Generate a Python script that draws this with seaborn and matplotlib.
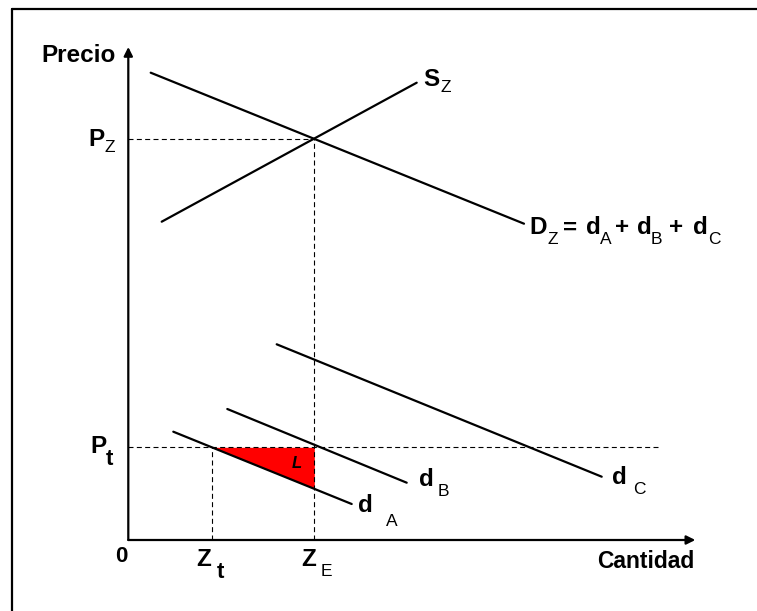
import numpy as np
import pandas as pd
import matplotlib
matplotlib.use('Agg')
import matplotlib.pyplot as plt
import seaborn as sns
from matplotlib.lines import Line2D

# Datos (unidades del diagrama, origen en el cruce de los ejes)
curvas = ['D_Z', 'S_Z', 'd_A', 'd_B', 'd_C']
q_inicio = [22.4, 33.4, 45.0, 99.0, 148.4]
p_inicio = [467.3, 318.3, 108.3, 131.0, 195.7]
q_fin = [395.7, 288.4, 223.4, 278.4, 473.4]
p_fin = [316.3, 457.3, 36.0, 57.3, 63.3]

precio_z = 401.0   # P_Z
precio_t = 92.7    # P_t
cant_e = 186.0     # Z_E
cant_t = 83.4      # Z_t
fin_pt = 530.0     # fin de la línea punteada de P_t
eje_x_max = 567.0
eje_y_max = 493.0

sns.set_theme(style='white')
plt.rcParams['font.family'] = ['Liberation Sans', 'DejaVu Sans']
plt.rcParams['text.color'] = 'black'


def main():
    df = pd.DataFrame({
        'curva': curvas + curvas,
        'Q': q_inicio + q_fin,
        'P': p_inicio + p_fin,
    })

    fig = plt.figure(figsize=(7.57, 6.11), dpi=100)
    ax = fig.add_axes([0, 0, 1, 1])
    ax.set_xlim(-128.3, 628.7)
    ax.set_ylim(-71, 540)
    ax.axis('off')

    # marco (solo izquierda y arriba, el resto queda recortado)
    fig.add_artist(Line2D([12 / 757, 12 / 757], [0, 1 - 9 / 611], transform=fig.transFigure,
                          color='black', lw=1.6))
    fig.add_artist(Line2D([12 / 757, 1], [1 - 9 / 611, 1 - 9 / 611], transform=fig.transFigure,
                          color='black', lw=1.6))

    # ejes con flechas
    flecha = dict(arrowstyle='-|>', lw=1.6, color='black', mutation_scale=13, shrinkA=0, shrinkB=0)
    ax.annotate('', xy=(eje_x_max, 0), xytext=(0, 0), arrowprops=flecha)
    ax.annotate('', xy=(0, eje_y_max), xytext=(0, 0), arrowprops=flecha)

    # curvas de oferta y demanda
    sns.lineplot(data=df, x='Q', y='P', units='curva', estimator=None, sort=False,
                 color='black', lw=1.6, ax=ax, legend=False)

    # líneas punteadas
    punteado = dict(color='black', lw=0.8, dashes=(4.5, 3))
    ax.plot([0, cant_e], [precio_z, precio_z], **punteado)
    ax.plot([cant_e, cant_e], [0, precio_z], **punteado)
    ax.plot([0, fin_pt], [precio_t, precio_t], **punteado)
    ax.plot([cant_t, cant_t], [0, precio_t], **punteado)

    # triángulo de pérdida L entre d_A y P_t
    i = curvas.index('d_A')
    qs = np.linspace(cant_t, cant_e, 50)
    pa = np.interp(qs, [q_inicio[i], q_fin[i]], [p_inicio[i], p_fin[i]])
    ax.fill_between(qs, pa, precio_t, color='#FF0000', lw=0, zorder=1)
    ax.text(168, 76, 'L', fontsize=12, fontweight='bold', style='italic', ha='center', va='center')

    grande = dict(fontsize=17.5, fontweight='bold', va='center', ha='left')
    sub = dict(fontsize=12.5, va='center', ha='left')

    ax.text(-87, 485, 'Precio', **grande)
    ax.text(469, -21, 'Cantidad', fontsize=16.5, fontweight='bold', va='center', ha='left')
    ax.text(-6.5, -17, '0', fontsize=16, fontweight='bold', ha='center', va='center')

    ax.text(-40, precio_z, 'P', **grande)
    ax.text(-24, precio_z - 8, 'Z', **sub)
    ax.text(-38, precio_t + 1, 'P', **grande)
    ax.text(-23, precio_t - 12, 't', fontsize=16, fontweight='bold', va='center', ha='left')

    ax.text(cant_t - 15, -20, 'Z', **grande)
    ax.text(cant_t + 5, -33, 't', fontsize=16, fontweight='bold', va='center', ha='left')
    ax.text(cant_e - 13, -20, 'Z', **grande)
    ax.text(cant_e + 6, -31, 'E', **sub)

    # etiquetas de curvas
    ax.text(295, 460, 'S', **grande)
    ax.text(312, 452, 'Z', **sub)

    ax.text(401.5, 312, 'D', **grande)
    ax.text(419, 300, 'Z', **sub)
    ax.text(435, 312, '=', **grande)
    ax.text(457.5, 313, 'd', **grande)
    ax.text(471.5, 300, 'A', **sub)
    ax.text(486.5, 312, '+', **grande)
    ax.text(508.5, 313, 'd', **grande)
    ax.text(522, 300, 'B', **sub)
    ax.text(540.5, 312, '+', **grande)
    ax.text(564.5, 313, 'd', **grande)
    ax.text(579.5, 300, 'C', **sub)

    ax.text(229.5, 35, 'd', **grande)
    ax.text(258, 19, 'A', **sub)
    ax.text(290.5, 60, 'd', **grande)
    ax.text(309.5, 48, 'B', **sub)
    ax.text(484, 63, 'd', **grande)
    ax.text(504.5, 50, 'C', **sub)

    fig.savefig('out.png', dpi=100, facecolor='white')
    plt.close(fig)


if __name__ == '__main__':
    main()
